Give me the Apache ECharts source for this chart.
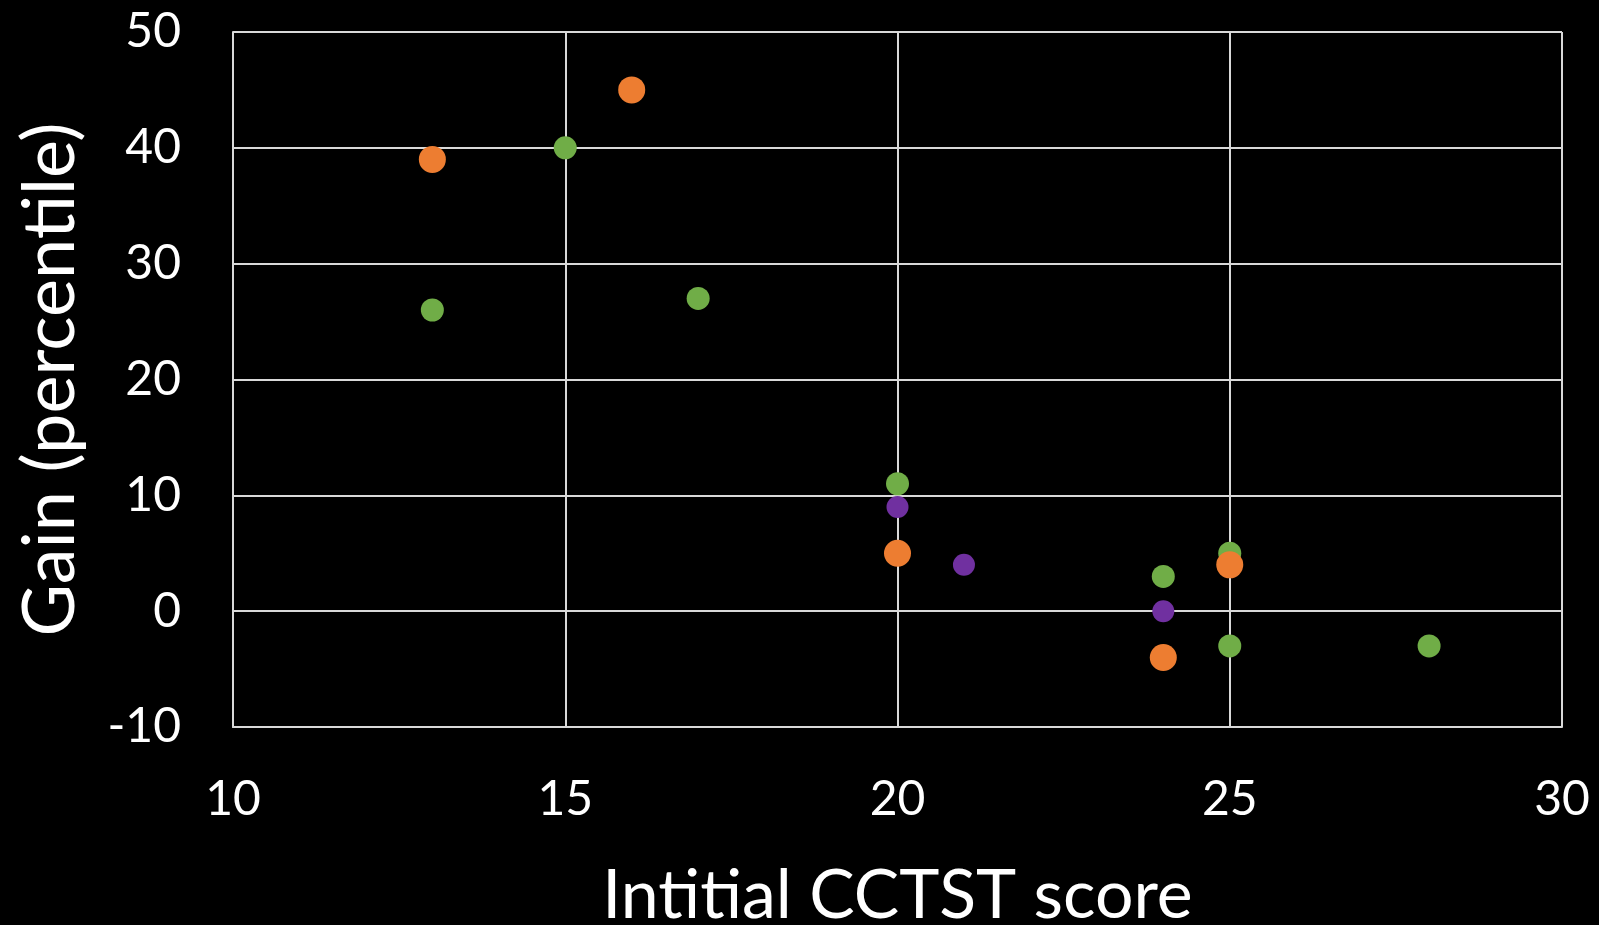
<!DOCTYPE html>
<html>
<head>
<meta charset="utf-8">
<script src="https://cdn.jsdelivr.net/npm/echarts@6/dist/echarts.min.js"></script>
<style>
html,body{margin:0;padding:0;background:#000;}
#chart{width:1599px;height:925px;}
</style>
</head>
<body>
<div id="chart"></div>
<script>
var xTitle = 'Intitial CCTST score';
var yTitle = 'Gain (percentile)';
var greenPoints = [[13, 26], [15, 40], [17, 27], [20, 11], [24, 3], [25, 5], [25, -3], [28, -3]];
var purplePoints = [[20, 9], [21, 4], [24, 0]];
var orangePoints = [[13, 39], [16, 45], [20, 5], [25, 4], [24, -4]];

var FONT = 'Lato';
var chart = echarts.init(document.getElementById('chart'));
var gridColor = '#d9d9d9';
chart.setOption({
  backgroundColor: '#000',
  animation: false,
  grid: {left: 233, right: 37, top: 32, bottom: 198, containLabel: false, outerBoundsMode: 'none'},
  xAxis: {
    type: 'value', min: 10, max: 30, interval: 5,
    name: xTitle, nameLocation: 'middle', nameGap: 135,
    nameTextStyle: {color: '#fff', fontSize: 68, fontFamily: FONT},
    axisLine: {show: true, onZero: false, lineStyle: {color: gridColor, width: 2}},
    axisTick: {show: false},
    axisLabel: {color: '#fff', fontSize: 48, fontFamily: FONT, margin: 49},
    splitLine: {show: true, lineStyle: {color: gridColor, width: 2}}
  },
  yAxis: {
    type: 'value', min: -10, max: 50, interval: 10,
    name: yTitle, nameLocation: 'middle', nameGap: 146,
    nameTextStyle: {color: '#fff', fontSize: 72, fontFamily: FONT},
    axisLine: {show: true, lineStyle: {color: gridColor, width: 2}},
    axisTick: {show: false},
    axisLabel: {color: '#fff', fontSize: 48, fontFamily: FONT, margin: 52},
    splitLine: {show: true, lineStyle: {color: gridColor, width: 2}}
  },
  series: [
    {type: 'scatter', name: 'green', data: greenPoints, symbolSize: 23, itemStyle: {color: '#70AD47', opacity: 1}},
    {type: 'scatter', name: 'purple', data: purplePoints, symbolSize: 22, itemStyle: {color: '#7030A0', opacity: 1}},
    {type: 'scatter', name: 'orange', data: orangePoints, symbolSize: 27, itemStyle: {color: '#ED7D31', opacity: 1}}
  ]
});
</script>
</body>
</html>
